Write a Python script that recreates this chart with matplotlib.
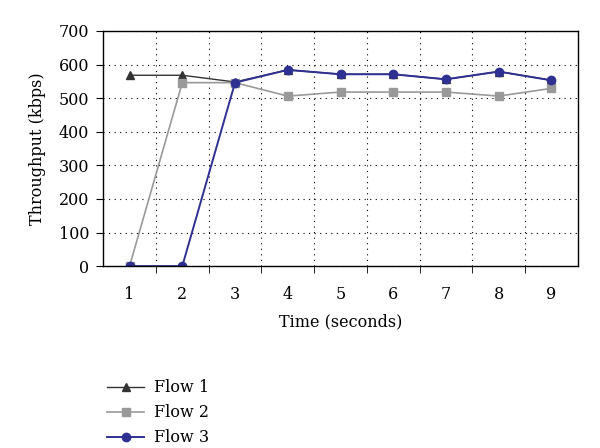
import matplotlib.pyplot as plt
import numpy as np

plt.rcParams['font.family'] = ['DejaVu Serif']

times = [1, 2, 3, 4, 5, 6, 7, 8, 9]
flow1 = [568, 568, 548, 584, 571, 571, 556, 579, 553]
flow2 = [0, 546, 546, 506, 518, 518, 518, 506, 529]
flow3 = [0, 0, 546, 584, 571, 571, 556, 579, 553]

fig = plt.figure(figsize=(6, 4.48), dpi=100)
ax = fig.add_axes([0.172, 0.406, 0.791, 0.525])

ax.plot(times, flow1, color='#333333', marker='^', markersize=6, lw=1, label='Flow 1')
ax.plot(times, flow2, color='#999999', marker='s', markersize=5.5, lw=1.2, label='Flow 2')
ax.plot(times, flow3, color='#2e3192', marker='o', markersize=6, lw=1.4, label='Flow 3')

ax.set_xlim(0.5, 9.5)
ax.set_ylim(0, 700)
ax.set_xticks(times)
ax.set_xticks(np.arange(1.5, 9.5, 1), minor=True)
ax.set_yticks(range(0, 701, 100))
ax.tick_params(axis='x', which='major', length=0, pad=14, labelsize=11.5)
ax.tick_params(axis='x', which='minor', length=5, direction='out')
ax.tick_params(axis='y', length=5, direction='out', labelsize=11.5, pad=5)
ax.grid(True, axis='x', which='minor', color='black', linestyle=(0, (1, 4)), lw=0.8)
ax.grid(True, axis='y', which='major', color='black', linestyle=(0, (1, 4)), lw=0.8)
for s in ax.spines.values():
    s.set_linewidth(1)

ax.set_xlabel('Time (seconds)', fontsize=11.5, labelpad=8)
ax.set_ylabel('Throughput (kbps)', fontsize=11.5, labelpad=9)

fig.legend(loc='upper left', bbox_to_anchor=(0.155, 0.185), frameon=False,
           fontsize=11.5, handlelength=2.3, handletextpad=0.6, labelspacing=0.5)

fig.savefig('out.png', dpi=100)
